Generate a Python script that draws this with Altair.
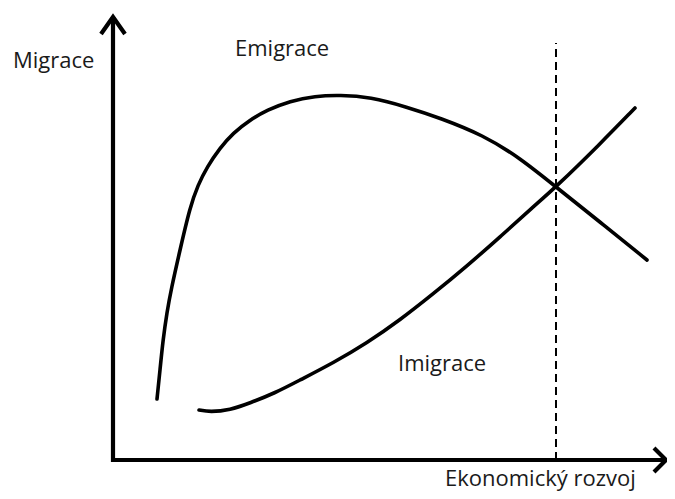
import altair as alt
import pandas as pd

# Emigrace curve (x = economic development, y = migration)
emi_x = [44, 47, 50, 54, 58, 67, 77, 85, 94, 107, 120, 137, 154, 177, 202, 227, 257, 294, 327, 370, 407, 443, 487, 534]
emi_y = [61, 90, 120, 148, 170, 210, 253, 275, 293, 312, 327, 340, 350, 359, 364, 365, 363, 353, 342, 325, 302, 273, 238, 200]

# Imigrace curve
imi_x = [86, 97, 117, 137, 162, 187, 220, 254, 287, 320, 354, 387, 420, 443, 487, 522]
imi_y = [50, 48, 50, 57, 67, 80, 97, 117, 140, 166, 194, 223, 253, 273, 316, 352]

# threshold (dashed vertical)
thr_x = [443, 443]
thr_y = [0, 417]

# axes with arrowheads: segment id, x, y
axis_seg = [0, 0, 1, 1, 2, 2, 2, 3, 3, 3]
axis_x = [0, 0, 0, 553, -12, 0, 12, 541, 553, 541]
axis_y = [-2, 443, 0, 0, 426, 443, 426, 12, 0, -12]

# labels
labels = ["Migrace", "Emigrace", "Imigrace", "Ekonomický rozvoj"]
label_x = [-100, 122, 285, 332]
label_y = [392, 404, 89, -26]

W, H = 659, 483
xs = alt.Scale(domain=[-105, 554], nice=False, zero=False)
ys = alt.Scale(domain=[-31, 452], nice=False, zero=False)

curves = pd.DataFrame({
    "x": emi_x + imi_x,
    "y": emi_y + imi_y,
    "series": ["Emigrace"] * len(emi_x) + ["Imigrace"] * len(imi_x),
    "o": list(range(len(emi_x))) + list(range(len(imi_x))),
})
axes_df = pd.DataFrame({"x": axis_x, "y": axis_y, "seg": axis_seg, "o": list(range(len(axis_x)))})
thr_df = pd.DataFrame({"x": thr_x, "y": thr_y, "o": [0, 1]})
lab_df = pd.DataFrame({"label": labels, "x": label_x, "y": label_y})

enc = dict(
    x=alt.X("x:Q", scale=xs, axis=None),
    y=alt.Y("y:Q", scale=ys, axis=None),
)

curve_layer = alt.Chart(curves).mark_line(
    color="#000000", strokeWidth=3.6, interpolate="basis", strokeCap="round"
).encode(detail="series:N", order="o:Q", **enc)

axes_layer = alt.Chart(axes_df).mark_line(
    color="#000000", strokeWidth=4.2, strokeCap="butt", strokeJoin="miter"
).encode(detail="seg:N", order="o:Q", **enc)

thr_layer = alt.Chart(thr_df).mark_line(
    color="#000000", strokeWidth=2, strokeDash=[8, 5]
).encode(order="o:Q", **enc)

text_layer = alt.Chart(lab_df).mark_text(
    align="left", baseline="alphabetic", font="Open Sans", fontSize=22, color="#1a1a1a"
).encode(text="label:N", **enc)

chart = alt.layer(thr_layer, curve_layer, axes_layer, text_layer).properties(
    width=W, height=H, padding=0, autosize=alt.AutoSizeParams(type="none")
).configure_view(stroke=None)

chart.save("out.html", embed_options={"renderer": "svg", "actions": False})
